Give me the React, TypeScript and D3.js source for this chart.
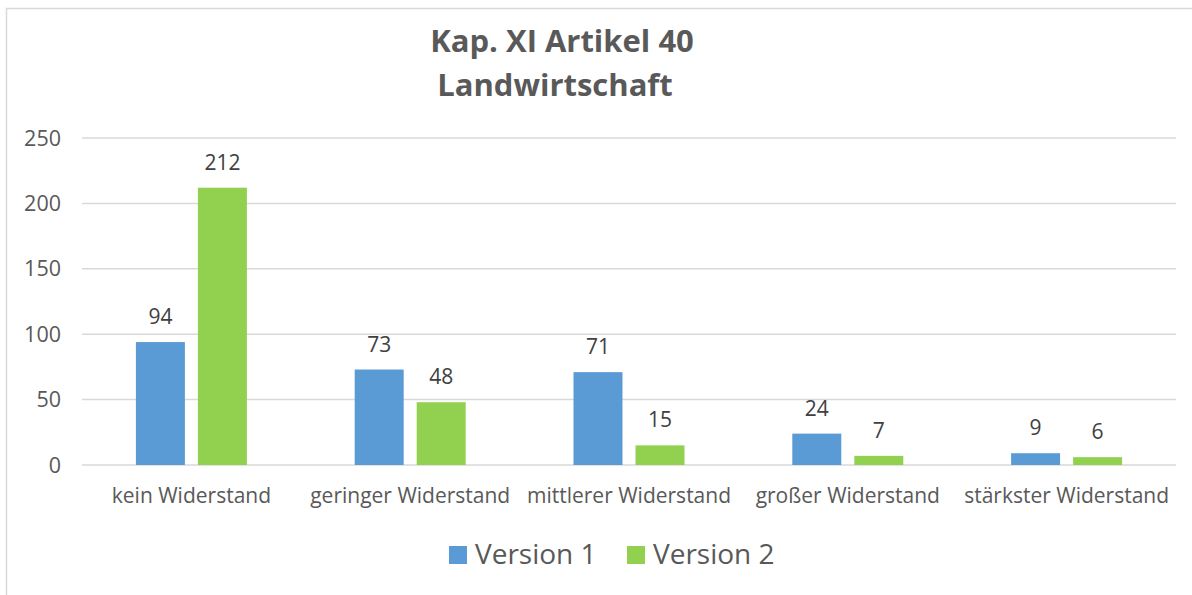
import React from 'react';
import * as d3 from 'd3';

const categories = ['kein Widerstand', 'geringer Widerstand', 'mittlerer Widerstand', 'großer Widerstand', 'stärkster Widerstand'];
const seriesNames = ['Version 1', 'Version 2'];
const version1 = [94, 73, 71, 24, 9];
const version2 = [212, 48, 15, 7, 6];
const yTicks = [0, 50, 100, 150, 200, 250];
const colors = ['#5B9BD5', '#92D050'];

const width = 1192;
const height = 595;
const margin = { top: 138, right: 16, bottom: 130, left: 82 };
const font = '"Open Sans", sans-serif';

const App = () => {
  const x = d3.scaleBand().domain(categories).range([margin.left, width - margin.right]);
  const inner = d3.scaleBand().domain(seriesNames).range([0, 111]).paddingInner(0.21);
  const y = d3.scaleLinear().domain([0, 250]).range([height - margin.bottom, margin.top]);
  const series = [version1, version2];

  return (
    <svg width={width} height={height} style={{ position: 'absolute', left: 0, top: 0 }} fontFamily={font}>
      <rect x={6.5} y={8.5} width={width + 10} height={height + 10} fill="#fff" stroke="#D9D9D9" strokeWidth={1.5} />
      <text x={562} y={52} textAnchor="middle" fontSize={31} fontWeight="bold" fill="#595959">Kap. XI Artikel 40</text>
      <text x={555} y={96} textAnchor="middle" fontSize={31} fontWeight="bold" fill="#595959">Landwirtschaft</text>

      {yTicks.map(t => (
        <g key={t}>
          <line x1={margin.left} x2={width - margin.right} y1={y(t)} y2={y(t)} stroke="#D9D9D9" strokeWidth={1.5} />
          <text x={61} y={y(t)} dy="0.35em" textAnchor="end" fontSize={21.5} fill="#595959">{t}</text>
        </g>
      ))}

      {categories.map((c, i) => {
        const cx = x(c)! + x.bandwidth() / 2;
        const gx = cx - 55.5;
        return (
          <g key={c}>
            {series.map((s, j) => (
              <g key={j}>
                <rect x={gx + inner(seriesNames[j])!} y={y(s[i])} width={inner.bandwidth()} height={y(0) - y(s[i])} fill={colors[j]} />
                <text x={gx + inner(seriesNames[j])! + inner.bandwidth() / 2} y={y(s[i]) - 18} textAnchor="middle" fontSize={21} fill="#404040">{s[i]}</text>
              </g>
            ))}
            <text x={cx} y={503} textAnchor="middle" fontSize={21} fill="#595959">{c}</text>
          </g>
        );
      })}

      {seriesNames.map((n, j) => (
        <g key={n} transform={`translate(${449 + j * 178},546)`}>
          <rect width={18} height={18} fill={colors[j]} />
          <text x={26} y={18} fontSize={28} fill="#595959">{n}</text>
        </g>
      ))}
    </svg>
  );
};

export default App;
